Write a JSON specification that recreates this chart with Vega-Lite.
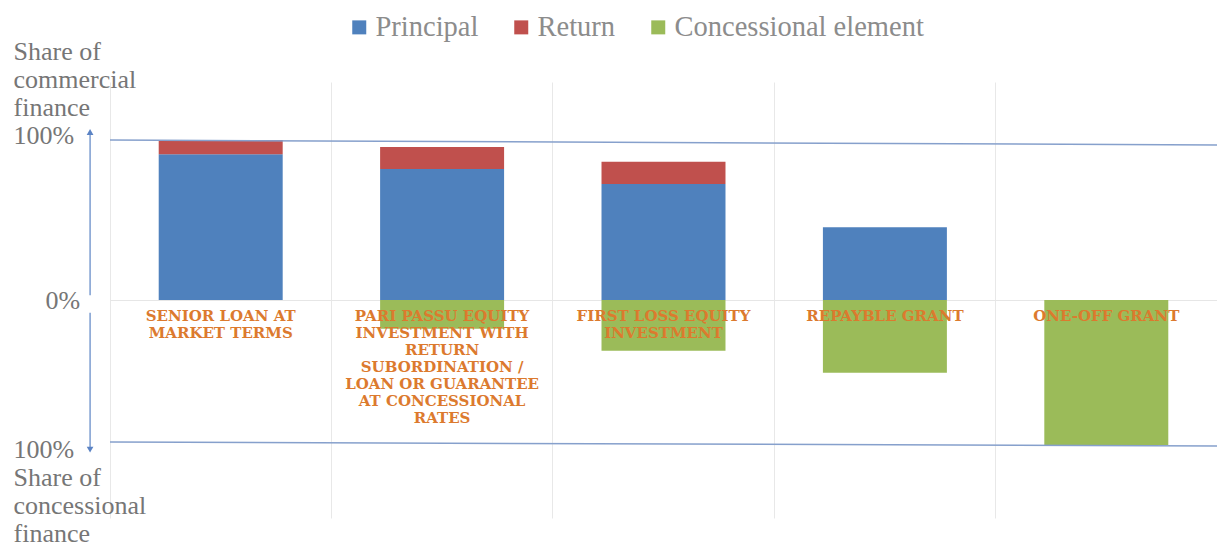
{
  "$schema": "https://vega.github.io/schema/vega-lite/v6.json",
  "width": 1107,
  "height": 436,
  "autosize": "none",
  "padding": {"left": 110, "top": 82, "right": 0, "bottom": 29},
  "background": "white",
  "config": {"view": {"stroke": null}},
  "layer": [
    {
      "layer": [
        {
          "data": {"values": [
            {"cat": "Senior loan at market terms", "series": "Principal", "value": 91.1, "ord": 1},
            {"cat": "Senior loan at market terms", "series": "Return", "value": 8.9, "ord": 2},
            {"cat": "Pari passu equity investment with return subordination / loan or guarantee at concessional rates", "series": "Principal", "value": 81.9, "ord": 1},
            {"cat": "Pari passu equity investment with return subordination / loan or guarantee at concessional rates", "series": "Return", "value": 13.7, "ord": 2},
            {"cat": "Pari passu equity investment with return subordination / loan or guarantee at concessional rates", "series": "Concessional element", "value": -18, "ord": 3},
            {"cat": "First loss equity investment", "series": "Principal", "value": 72.5, "ord": 1},
            {"cat": "First loss equity investment", "series": "Return", "value": 13.9, "ord": 2},
            {"cat": "First loss equity investment", "series": "Concessional element", "value": -31.7, "ord": 3},
            {"cat": "Repayble grant", "series": "Principal", "value": 45.4, "ord": 1},
            {"cat": "Repayble grant", "series": "Concessional element", "value": -45.4, "ord": 3},
            {"cat": "One-off grant", "series": "Concessional element", "value": -90.6, "ord": 3}
          ]},
          "mark": {"type": "bar", "width": {"band": 0.56}},
          "encoding": {
            "x": {
              "field": "cat", "type": "nominal", "sort": null,
              "scale": {"paddingInner": 0, "paddingOuter": 0},
              "axis": {"labels": false, "ticks": false, "domain": false, "title": null, "grid": true, "bandPosition": 0, "gridColor": "#e8e8e8", "gridWidth": 1}
            },
            "y": {
              "field": "value", "type": "quantitative", "stack": "zero",
              "scale": {"domain": [-136.25, 136.25], "nice": false, "zero": false},
              "axis": {
                "values": [100, 0, -90.625],
                "labelExpr": "datum.value > 50 ? ['Share of','commercial','finance','100%'] : datum.value < -50 ? ['100%','Share of','concessional','finance'] : '0%'",
                "labelAlign": "left",
                "labelBaseline": "alphabetic",
                "labelPadding": {"condition": {"test": "datum.value === 0", "value": 65}, "value": 97},
                "labelOffset": {"condition": [{"test": "datum.value > 50", "value": -81}, {"test": "datum.value < -50", "value": 12}], "value": 8},
                "labelLineHeight": 28,
                "labelFont": "Liberation Serif",
                "labelFontSize": 26,
                "labelColor": "#767676",
                "labelOverlap": false,
                "labelBound": false,
                "labelFlush": false,
                "labelLimit": 400,
                "domain": false,
                "ticks": false,
                "tickSize": 0,
                "grid": true,
                "gridColor": "#e6e6e6",
                "gridOpacity": {"condition": {"test": "datum.value === 0", "value": 1}, "value": 0},
                "title": null
              }
            },
            "color": {
              "field": "series", "type": "nominal",
              "scale": {"domain": ["Principal", "Return", "Concessional element"], "range": ["#4F81BD", "#C0504D", "#9BBB59"]},
              "legend": {
                "title": null, "orient": "none", "direction": "horizontal",
                "legendX": 235, "legendY": -69, "padding": 0,
                "symbolType": "square", "symbolSize": 196, "symbolStrokeWidth": 0,
                "labelFont": "Liberation Serif", "labelFontSize": 28.5, "labelColor": "#8c8c8c",
                "labelOffset": 2, "columnPadding": 28, "labelLimit": 500
              }
            },
            "order": {"field": "ord", "type": "quantitative"}
          }
        },
        {
          "data": {"values": [
            {"cat": "Senior loan at market terms", "label": "SENIOR LOAN AT\nMARKET TERMS"},
            {"cat": "Pari passu equity investment with return subordination / loan or guarantee at concessional rates", "label": "PARI PASSU EQUITY\nINVESTMENT WITH\nRETURN\nSUBORDINATION /\nLOAN OR GUARANTEE\nAT CONCESSIONAL\nRATES"},
            {"cat": "First loss equity investment", "label": "FIRST LOSS EQUITY\nINVESTMENT"},
            {"cat": "Repayble grant", "label": "REPAYBLE GRANT"},
            {"cat": "One-off grant", "label": "ONE-OFF GRANT"}
          ]},
          "mark": {"type": "text", "baseline": "top", "align": "center", "dy": 9, "lineBreak": "\n", "lineHeight": 17, "font": "DejaVu Serif", "fontWeight": "bold", "fontSize": 15, "color": "#DC7A2E"},
          "encoding": {
            "x": {"field": "cat", "type": "nominal", "sort": null, "title": null},
            "y": {"datum": 0, "type": "quantitative"},
            "text": {"field": "label", "type": "nominal"}
          }
        },
        {
          "data": {"values": [
            {"cat": "Senior loan at market terms", "y": 104, "y2": 3},
            {"cat": "Senior loan at market terms", "y": -8, "y2": -93}
          ]},
          "mark": {"type": "rule", "color": "#5B83C4", "strokeWidth": 1.2},
          "encoding": {
            "x": {"field": "cat", "type": "nominal", "sort": null, "bandPosition": -0.09, "title": null},
            "y": {"field": "y", "type": "quantitative", "title": null},
            "y2": {"field": "y2"}
          }
        },
        {
          "data": {"values": [
            {"cat": "Senior loan at market terms", "y": 105, "shape": "triangle-up"},
            {"cat": "Senior loan at market terms", "y": -93.5, "shape": "triangle-down"}
          ]},
          "mark": {"type": "point", "filled": true, "color": "#5B83C4", "size": 45, "opacity": 1},
          "encoding": {
            "x": {"field": "cat", "type": "nominal", "sort": null, "bandPosition": -0.09, "title": null},
            "y": {"field": "y", "type": "quantitative", "title": null},
            "shape": {"field": "shape", "type": "nominal", "scale": null, "legend": null}
          }
        }
      ]
    },
    {
      "data": {"values": [
        {"t": 0, "y": 100, "g": "top"},
        {"t": 1, "y": 96.9, "g": "top"},
        {"t": 0, "y": -88.75, "g": "bottom"},
        {"t": 1, "y": -91.25, "g": "bottom"}
      ]},
      "mark": {"type": "line", "color": "#86A0CC", "strokeWidth": 1.5},
      "encoding": {
        "x": {"field": "t", "type": "quantitative", "scale": {"domain": [0, 1], "nice": false, "zero": false}, "axis": null},
        "y": {"field": "y", "type": "quantitative", "title": null},
        "detail": {"field": "g", "type": "nominal"}
      }
    }
  ],
  "resolve": {"scale": {"x": "independent"}, "axis": {"x": "independent"}}
}
